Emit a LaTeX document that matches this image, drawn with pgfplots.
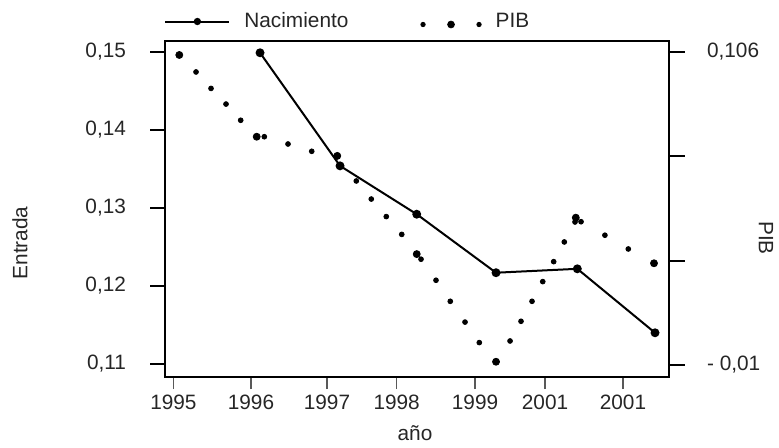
\documentclass[border=0pt]{standalone}
\usepackage{pgfplots}
\pgfplotsset{compat=1.18}
\usepackage{fontspec}
\setmainfont{Liberation Sans}

% Nacimiento (left axis)
\pgfplotstableread{
x y
1996.018 0.1499
1997.027 0.1354
1997.994 0.1292
1998.994 0.1217
2000.019 0.1222
2000.999 0.1140
}\nacimiento

% PIB (right axis), small dots
\pgfplotstableread{
x y
1995.211 0.0986
1995.400 0.0925
1995.589 0.0867
1995.774 0.0807
1996.072 0.0746
1996.371 0.0719
1996.670 0.0692
1997.232 0.0582
1997.421 0.0515
1997.610 0.0450
1997.805 0.0384
1998.048 0.0292
1998.237 0.0214
1998.417 0.0136
1998.603 0.0059
1998.783 -0.0017
1999.171 -0.0011
1999.309 0.0062
1999.448 0.0136
1999.583 0.0209
1999.721 0.0283
1999.855 0.0356
1999.990 0.0430
2000.066 0.0431
2000.367 0.0381
2000.662 0.0330
}\pibsmall

% PIB, yearly values (big dots)
\pgfplotstableread{
x y
1995.000 0.1049
1995.976 0.0746
1996.992 0.0675
1997.994 0.0311
1998.994 -0.0088
2000.000 0.0446
2000.986 0.0277
}\pibbig

\newcommand{\chartfont}{\fontsize{10.4}{12}\selectfont}

\begin{document}
\begin{tikzpicture}
\path[use as bounding box] (-82.5pt,-35.5pt) rectangle (307pt,188.5pt);

\pgfplotsset{
  every axis/.append style={
    width=252pt, height=168pt, scale only axis,
    xmin=1994.8197, xmax=2001.1753,
    tick align=outside,
    tick label style={font=\chartfont, text=black!85},
    label style={font=\chartfont, text=black!85},
  },
}

% x axis
\begin{axis}[
  ymin=0, ymax=1, ytick=\empty,
  axis line style={draw=none},
  xtick={1994.926,1995.904,1996.862,1997.741,1998.729,1999.612,2000.595},
  xticklabels={1995,1996,1997,1998,1999,2001,2001},
  xtick pos=left,
  xticklabel style={yshift=0.5pt},
  major tick length=6pt,
  tick style={gray!70!black, line width=0.6pt},
  xlabel={año},
  xlabel style={at={(axis description cs:0.496,-0.167)}, anchor=center},
]
\end{axis}

% left axis
\begin{axis}[
  ymin=0.10833, ymax=0.15141,
  xtick=\empty,
  ytick={0.11,0.12,0.13,0.14,0.15},
  yticklabels={{0,11},{0,12},{0,13},{0,14},{0,15}},
  ytick pos=left,
  yticklabel style={xshift=-8.5pt},
  major tick length=7.5pt,
  tick style={black, line width=1pt},
  axis line style={line width=1.2pt},
  ylabel={Entrada},
  ylabel style={at={(axis description cs:-0.2877,0.399)}, anchor=center},
  legend style={draw=none, fill=none, inner sep=0pt, font=\chartfont,
    text=black!85,
    at={(axis description cs:-0.002,1.058)}, anchor=west,
    legend columns=2,
    nodes={inner sep=0pt},
    /tikz/every odd column/.append style={column sep=7pt},
    /tikz/every even column/.append style={column sep=36pt}},
]
\addplot[black, line width=1pt, mark=*, mark size=1.7pt,
  legend image code/.code={
    \draw[black, line width=1pt] (0pt,0pt) -- (32pt,0pt);
    \fill[black] (16pt,0pt) circle (1.3pt);}]
  table {\nacimiento};
\addlegendentry{Nacimiento}
\addlegendimage{legend image code/.code={
    \fill[black] (1pt,-1.5pt) circle (1.1pt);
    \fill[black] (15pt,-1.5pt) circle (1.7pt);
    \fill[black] (29pt,-1.5pt) circle (1.1pt);}}
\addlegendentry{PIB}
\end{axis}

% right axis
\begin{axis}[
  ymin=-0.01445, ymax=0.11008,
  xtick=\empty,
  axis line style={draw=none},
  ytick={-0.01,0.028667,0.067333,0.106},
  yticklabels={{- 0,01},{},{},{0,106}},
  ytick pos=right, yticklabel pos=right,
  yticklabel style={xshift=7.5pt},
  major tick length=8pt,
  tick style={black, line width=1pt},
  ylabel={PIB},
  ylabel style={at={(axis description cs:1.1925,0.4137)}, anchor=center, rotate=180},
]
\addplot[only marks, black, mark=*, mark size=1.2pt] table {\pibsmall};
\addplot[only marks, black, mark=*, mark size=1.75pt] table {\pibbig};
\end{axis}
\end{tikzpicture}
\end{document}
